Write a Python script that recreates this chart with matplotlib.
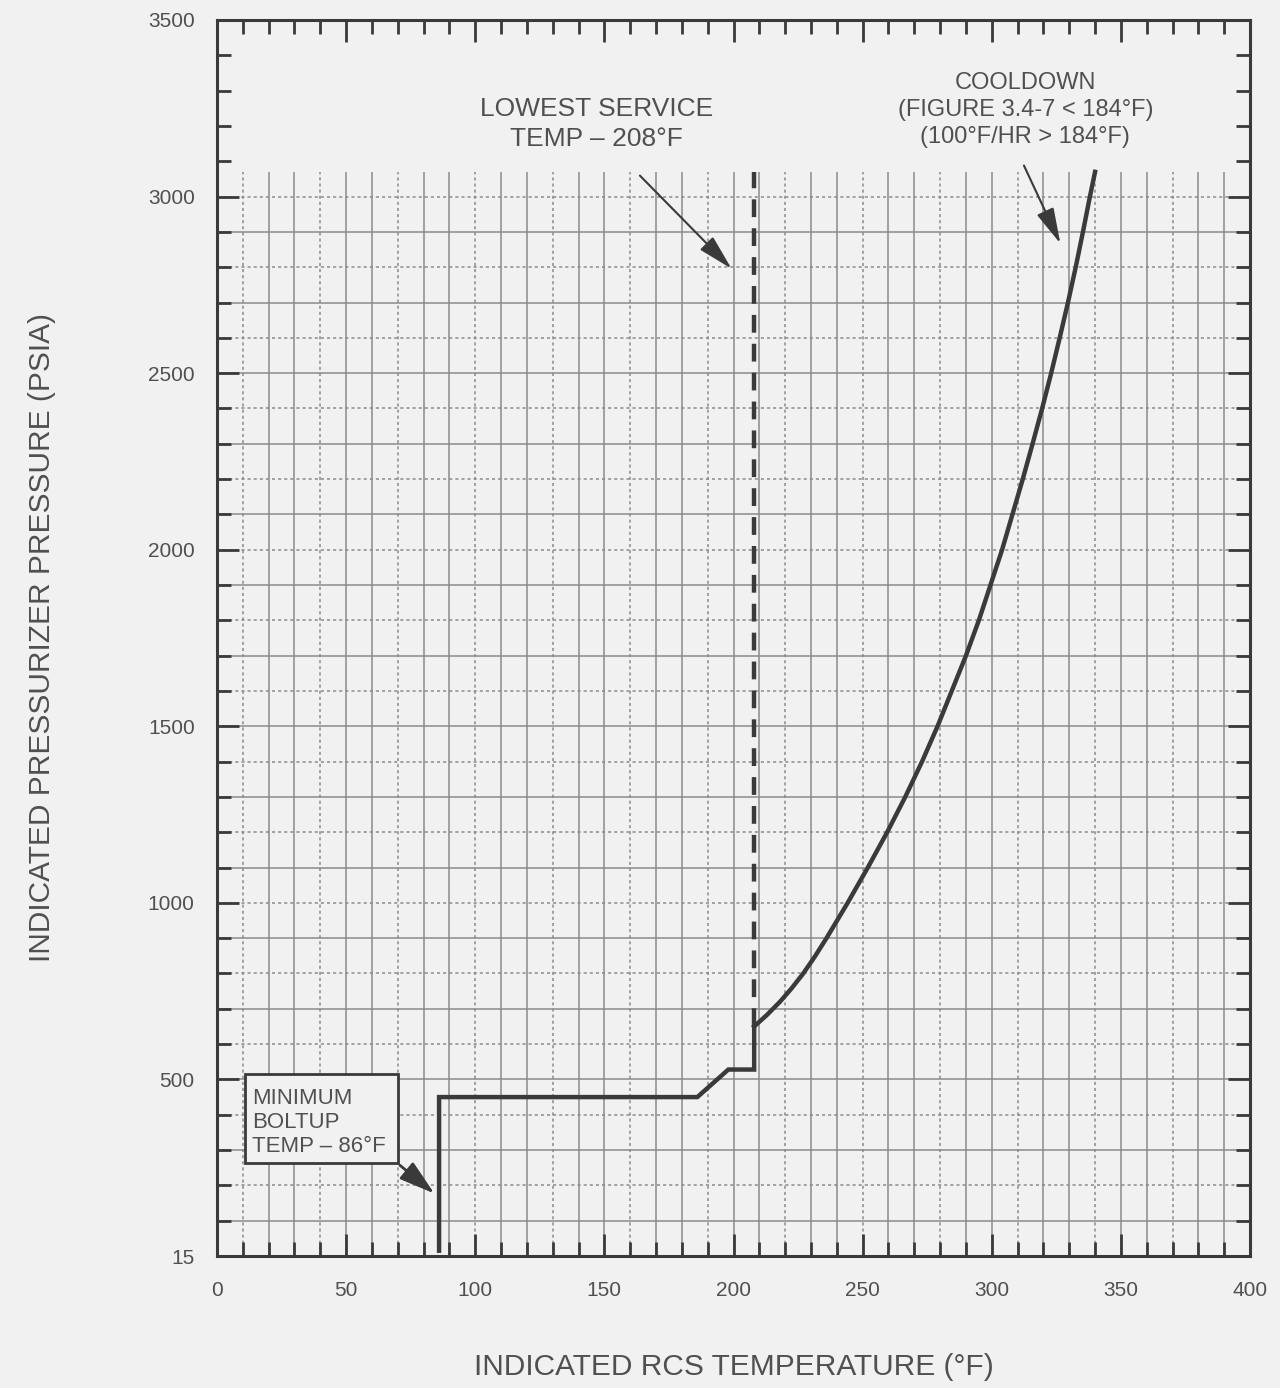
import matplotlib
matplotlib.use("Agg")
import matplotlib.pyplot as plt
from matplotlib.patches import Rectangle
import numpy as np

plt.rcParams['font.family'] = ['Liberation Sans', 'DejaVu Sans']

# ---- data ----
x_ticks = [0, 50, 100, 150, 200, 250, 300, 350, 400]
x_tick_labels = ["0", "50", "100", "150", "200", "250", "300", "350", "400"]
y_ticks = [0, 500, 1000, 1500, 2000, 2500, 3000, 3500]
y_tick_labels = ["15", "500", "1000", "1500", "2000", "2500", "3000", "3500"]

# limit curve: step section
step_temp = [86, 86, 186, 198, 208, 208]
step_pres = [15, 450, 450, 528, 528, 650]
# limit curve: cooldown section
curve_temp = [208, 213, 218, 222.5, 227, 231.5, 236, 244.2, 252, 259.5, 266.5, 273,
              279, 284.5, 290, 295, 299.5, 304, 308, 312, 315.8, 319.5, 323,
              326.3, 329.5, 332.5, 335.3, 338, 340]
curve_pres = [650, 683, 720, 758, 800, 848, 900, 1000, 1100, 1200, 1300, 1400,
              1500, 1600, 1700, 1800, 1900, 2000, 2100, 2200, 2300, 2400, 2500,
              2600, 2700, 2800, 2900, 3000, 3070]

lowest_service_temp = 208
service_line_pres = [650, 3070]

grid_x = list(range(10, 400, 10))
grid_y = list(range(100, 3100, 100))

# ---- figure ----
bg = '#f1f1f1'
ink = '#3a3a3a'
txt = '#505050'
gridc = '#8a8a8a'
fig = plt.figure(figsize=(12.8, 13.88), dpi=100, facecolor=bg)
ax = fig.add_axes([0.1695, 0.0951, 0.9766 - 0.1695, 0.9856 - 0.0951])
ax.set_facecolor(bg)
ax.set_xlim(0, 400)
ax.set_ylim(0, 3500)

# grid
for i, gx in enumerate(grid_x):
    ls = '-' if (i % 3) != 0 else (0, (2, 2))
    ax.vlines(gx, 0, 3070, colors=gridc, linewidth=1.1, linestyles=[ls], zorder=1)
for j, gy in enumerate(grid_y):
    ls = '-' if (gy // 100) % 2 == 1 else (0, (2, 2))
    ax.hlines(gy, 0, 400, colors=gridc, linewidth=1.1, linestyles=[ls], zorder=1)

# curve
ax.plot(step_temp, step_pres, color=ink, linewidth=3.2, solid_joinstyle='miter', zorder=3)
ax.plot(curve_temp, curve_pres, color=ink, linewidth=3.2, solid_joinstyle='round', zorder=3)

# lowest service temperature dashed line
ax.plot([lowest_service_temp, lowest_service_temp], service_line_pres, color=ink,
        linewidth=3.2, linestyle=(0, (4, 2.5)), zorder=3)

# ticks
ax.set_xticks(x_ticks)
ax.set_xticklabels(x_tick_labels)
ax.set_yticks(y_ticks)
ax.set_yticklabels(y_tick_labels)
ax.set_xticks(np.arange(0, 401, 10), minor=True)
ax.set_yticks(np.arange(0, 3501, 100), minor=True)
ax.tick_params(axis='both', which='major', direction='in', length=16, width=2,
               colors=ink, labelcolor=txt, labelsize=15,
               top=True, right=True)
ax.tick_params(axis='both', which='minor', direction='in', length=10, width=2,
               colors=ink, top=True, right=True)
ax.tick_params(axis='x', which='major', pad=18)
ax.tick_params(axis='y', which='major', pad=16)
for s in ax.spines.values():
    s.set_linewidth(2.2)
    s.set_color(ink)

ax.set_xlabel("INDICATED RCS TEMPERATURE (°F)", fontsize=21.5, color=txt, labelpad=38)
ax.set_ylabel("INDICATED PRESSURIZER PRESSURE (PSIA)", fontsize=21.5, color=txt, labelpad=66)

# annotations
ax.text(147, 3205, "LOWEST SERVICE\nTEMP – 208°F", ha='center', va='center',
        fontsize=19, color=txt, linespacing=1.3, zorder=4)
ax.annotate("", xy=(200, 2790), xytext=(163, 3065),
            arrowprops=dict(arrowstyle='-|>,head_length=1.1,head_width=0.28',
                            color=ink, lw=1.5, mutation_scale=20), zorder=4)

ax.text(313, 3245, "COOLDOWN\n(FIGURE 3.4-7 < 184°F)\n(100°F/HR > 184°F)", ha='center',
        va='center', fontsize=17, color=txt, linespacing=1.27, zorder=4)
ax.annotate("", xy=(327, 2860), xytext=(312, 3095),
            arrowprops=dict(arrowstyle='-|>,head_length=1.1,head_width=0.28',
                            color=ink, lw=1.5, mutation_scale=20), zorder=4)

ax.add_patch(Rectangle((11, 262), 59, 252, facecolor=bg, edgecolor=ink,
                       linewidth=2, zorder=4))
ax.text(13.5, 378, "MINIMUM\nBOLTUP\nTEMP – 86°F", ha='left', va='center',
        fontsize=16, color=txt, linespacing=1.2, zorder=5)
ax.annotate("", xy=(85, 172), xytext=(70, 262),
            arrowprops=dict(arrowstyle='-|>,head_length=1.1,head_width=0.33',
                            color=ink, lw=2, mutation_scale=20), zorder=5)

fig.savefig("out.png", dpi=100, facecolor=bg)
